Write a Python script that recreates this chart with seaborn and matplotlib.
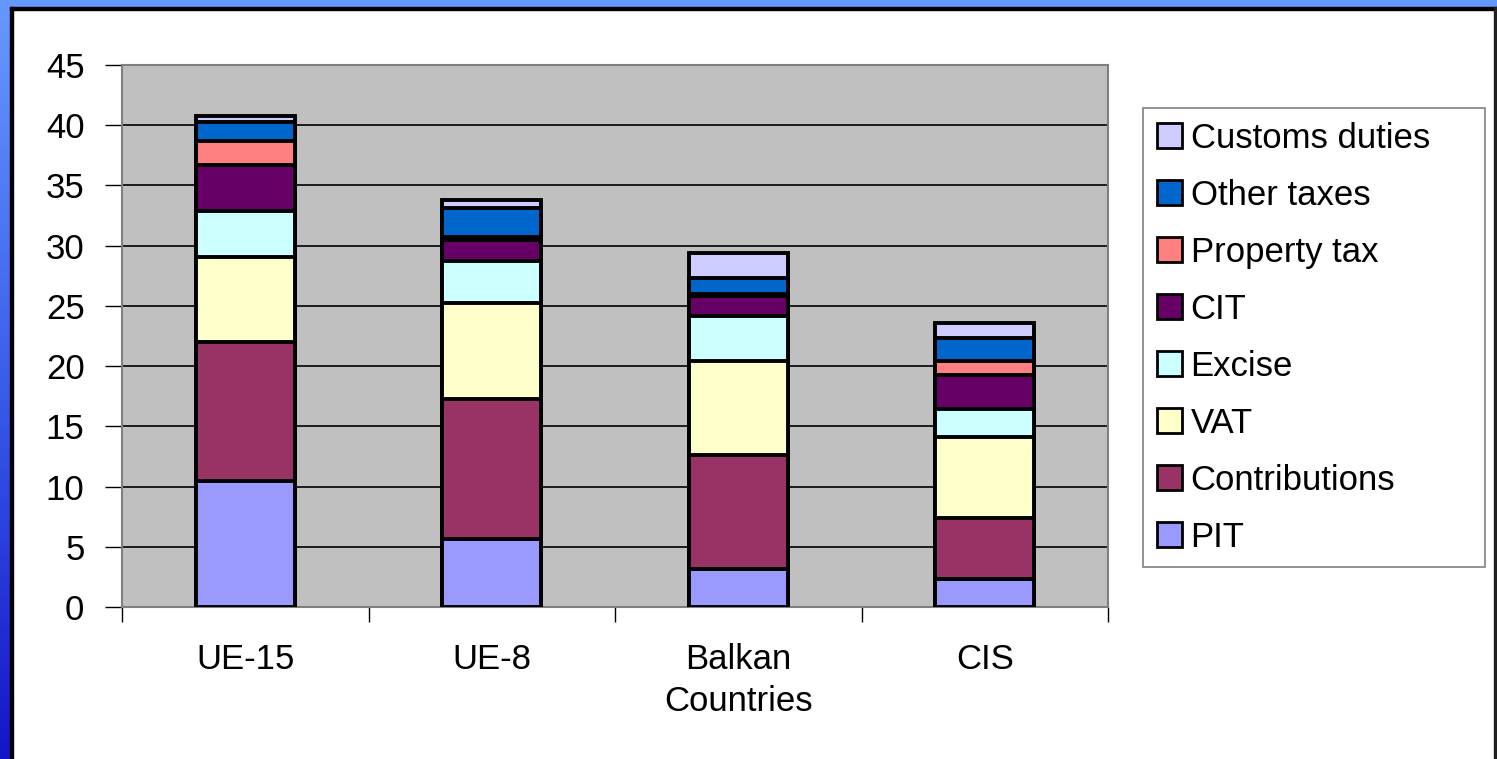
import numpy as np
import pandas as pd
import matplotlib
matplotlib.use("Agg")
import matplotlib.pyplot as plt
from matplotlib.patches import Patch, Rectangle
from matplotlib.colors import LinearSegmentedColormap
import seaborn as sns

# Tax revenue structure (% of GDP) by region group
regions = ["UE-15", "UE-8", "Balkan\nCountries", "CIS"]
taxes = ["PIT", "Contributions", "VAT", "Excise", "CIT", "Property tax", "Other taxes", "Customs duties"]

pit = [10.5, 5.65, 3.15, 2.3]
contributions = [11.5, 11.65, 9.45, 5.1]
vat = [7.1, 7.9, 7.8, 6.7]
excise = [3.8, 3.5, 3.8, 2.3]
cit = [3.8, 1.8, 1.6, 2.9]
property_tax = [2.0, 0.2, 0.2, 1.1]
other_taxes = [1.6, 2.4, 1.3, 1.9]
customs = [0.5, 0.7, 2.1, 1.3]

colors = ["#9999FF", "#993366", "#FFFFCC", "#CCFFFF", "#660066", "#FF8080", "#0066CC", "#CCCCFF"]

series = [pit, contributions, vat, excise, cit, property_tax, other_taxes, customs]
df = pd.DataFrame({"region": np.repeat(regions, len(taxes)),
                   "tax": taxes * len(regions),
                   "value": [series[j][i] for i in range(len(regions)) for j in range(len(taxes))]})
df["tax"] = pd.Categorical(df["tax"], categories=taxes, ordered=True)
df = df.sort_values(["region", "tax"])
df["cum"] = df.groupby("region", sort=False)["value"].cumsum()

plt.rcParams['font.family'] = ['Liberation Sans', 'DejaVu Sans']

fig = plt.figure(figsize=(14.97, 7.59), dpi=100, facecolor="white")
ax = fig.add_axes([122 / 1497, 1 - 607 / 759, (1108 - 122) / 1497, (607 - 65) / 759])
ax.set_facecolor("#C0C0C0")

# draw cumulative bars from the top segment down so each layer sits on the one below
for tax, col in reversed(list(zip(taxes, colors))):
    sub = df[df["tax"] == tax]
    sns.barplot(data=sub, x="region", y="cum", order=regions, color=col, width=0.4,
                edgecolor="black", linewidth=2.8, saturation=1, ax=ax, zorder=3)

ax.set_ylim(0, 45)
ax.set_xlim(-0.5, 3.5)
ax.set_yticks(range(0, 50, 5))
ax.yaxis.grid(True, color="black", linewidth=1.2, zorder=1)
ax.set_axisbelow(True)
ax.set_xlabel("")
ax.set_ylabel("")
ax.tick_params(axis="y", labelsize=25, length=12, width=1, pad=15, direction="out")
ax.tick_params(axis="x", which="major", labelsize=25, length=0, pad=26)
for lbl in ax.get_xticklabels():
    lbl.set_linespacing(1.35)
ax.set_xticks(np.arange(-0.5, 4, 1), minor=True)
ax.tick_params(axis="x", which="minor", length=11, width=1)
for s in ax.spines.values():
    s.set_color("#808080")
    s.set_linewidth(1.5)

handles = [Patch(facecolor=c, edgecolor="black", linewidth=2, label=t) for t, c in zip(taxes, colors)][::-1]
leg = fig.legend(handles=handles, loc="upper left",
                 bbox_to_anchor=(1143 / 1497, 1 - 108 / 759, (1485 - 1143) / 1497, 0.0001),
                 mode="expand", fontsize=25, frameon=True, fancybox=False, edgecolor="#606060",
                 handlelength=0.72, handleheight=0.72, handletextpad=0.25,
                 labelspacing=0.69, borderpad=0.4, borderaxespad=0)
leg.get_frame().set_linewidth(1.2)

# slide frame: blue strip on top, gradient on the left, black border
fig.add_artist(Rectangle((0, 1 - 8 / 759), 1, 8 / 759, transform=fig.transFigure, color="#6699FF", zorder=0))
gax = fig.add_axes([0, 0, 10 / 1497, 1])
grad = LinearSegmentedColormap.from_list("side", ["#1414C8", "#3A5EEA", "#6699FF"])
gax.imshow(np.linspace(0, 1, 256).reshape(-1, 1), aspect="auto", cmap=grad, origin="lower")
gax.axis("off")
fig.add_artist(Rectangle((10 / 1497, 0), 3 / 1497, 1 - 7 / 759, transform=fig.transFigure, color="black"))
fig.add_artist(Rectangle((10 / 1497, 1 - 10 / 759), 1, 3 / 759, transform=fig.transFigure, color="black"))
fig.add_artist(Rectangle((1494 / 1497, 0), 3 / 1497, 1 - 7 / 759, transform=fig.transFigure, color="#202020"))

fig.savefig("out.png", dpi=100, facecolor="white")
